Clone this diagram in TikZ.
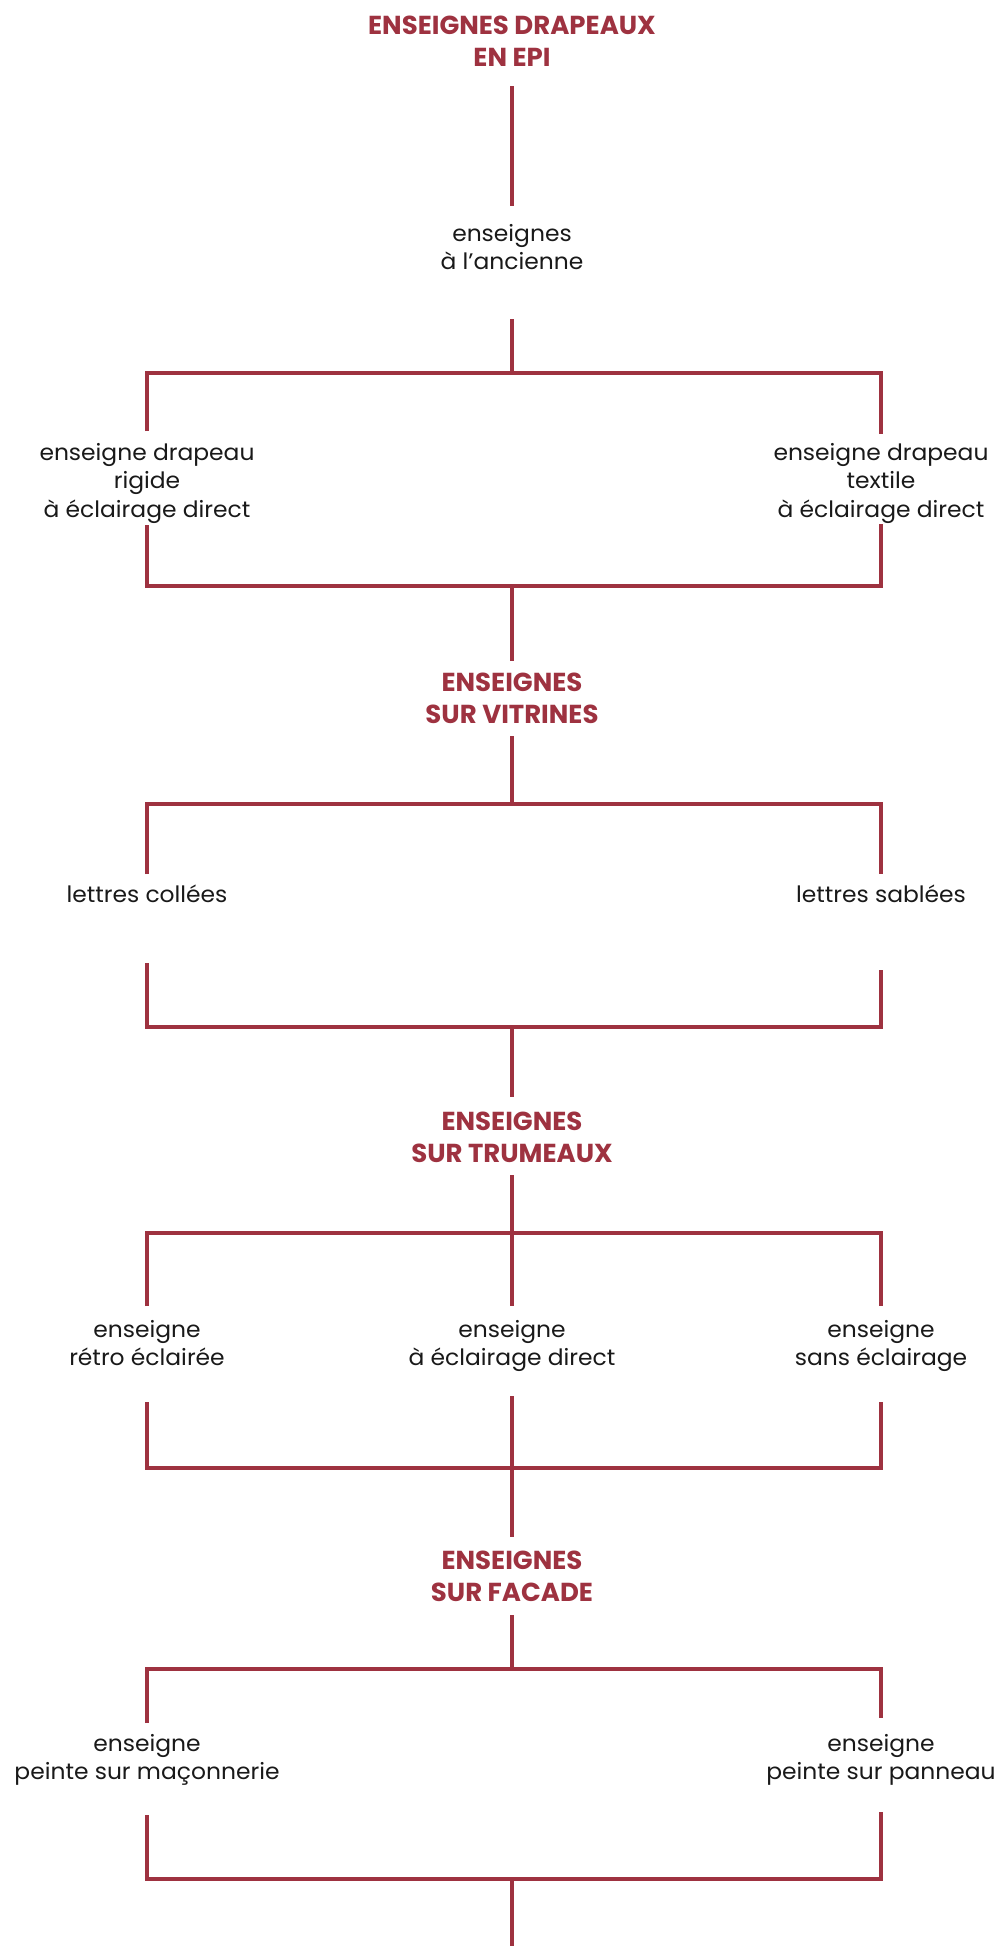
\documentclass[tikz,border=0pt]{standalone}
\usepackage{fontspec}
\setmainfont{Poppins}
\newfontfamily\leaffamily[FakeStretch=1.04]{Poppins}
\definecolor{wine}{RGB}{158,50,64}
\definecolor{ink}{RGB}{25,25,25}
\newcommand\headfont{\fontsize{26}{32}\selectfont\bfseries}
\newcommand\leaffont{\leaffamily\fontsize{22.5}{28}\selectfont}
\tikzset{
  link/.style={draw=wine, line width=3.1pt},
  head/.style={font=\headfont, text=wine, anchor=base, inner sep=0pt},
  leaf/.style={font=\leaffont, text=ink, anchor=base, inner sep=0pt},
}
\begin{document}
\begin{tikzpicture}[x=1pt,y=-1pt]
\fill[white] (0,0) rectangle (1002,1946);
\useasboundingbox (0,0) rectangle (1002,1946);
\def\cx{512}\def\lx{147}\def\rx{881}
% --- headings
\node[head] (h1a) at (\cx,34) {ENSEIGNES DRAPEAUX};
\node[head] (h1b) at (\cx,66) {EN EPI};
\node[head] (h2a) at (\cx,691) {ENSEIGNES};
\node[head] (h2b) at (\cx,723) {SUR VITRINES};
\node[head] (h3a) at (\cx,1130) {ENSEIGNES};
\node[head] (h3b) at (\cx,1162) {SUR TRUMEAUX};
\node[head] (h4a) at (\cx,1569) {ENSEIGNES};
\node[head] (h4b) at (\cx,1601) {SUR FACADE};
% --- leaves
\node[leaf] (a1) at (\cx,241) {enseignes};
\node[leaf] (a2) at (\cx,269) {à l’ancienne};
\node[leaf] (b1) at (\lx,460) {enseigne drapeau};
\node[leaf] (b2) at (\lx,488.5) {rigide};
\node[leaf] (b3) at (\lx,517) {à éclairage direct};
\node[leaf] (c1) at (\rx,460) {enseigne drapeau};
\node[leaf] (c2) at (\rx,488.5) {textile};
\node[leaf] (c3) at (\rx,517) {à éclairage direct};
\node[leaf] (d1) at (\lx,902) {lettres collées};
\node[leaf] (e1) at (\rx,902) {lettres sablées};
\node[leaf] (f1) at (\lx,1337) {enseigne};
\node[leaf] (f2) at (\lx,1365) {rétro éclairée};
\node[leaf] (g1) at (\cx,1337) {enseigne};
\node[leaf] (g2) at (\cx,1365) {à éclairage direct};
\node[leaf] (k1) at (\rx,1337) {enseigne};
\node[leaf] (k2) at (\rx,1365) {sans éclairage};
\node[leaf] (m1) at (\lx,1751) {enseigne};
\node[leaf] (m2) at (\lx,1779) {peinte sur maçonnerie};
\node[leaf] (n1) at (\rx,1751) {enseigne};
\node[leaf] (n2) at (\rx,1779) {peinte sur panneau};
% --- line ends
\coordinate (s1t) at (\cx,86);   \coordinate (s1b) at (\cx,206);
\coordinate (s2t) at (\cx,319);  \coordinate (j1) at (\cx,373);
\coordinate (bt) at (\lx,431);   \coordinate (ct) at (\rx,434);
\coordinate (bb) at (\lx,525);   \coordinate (cb) at (\rx,524);
\coordinate (j2) at (\cx,586);   \coordinate (s3b) at (\cx,661);
\coordinate (s4t) at (\cx,736);  \coordinate (j3) at (\cx,804);
\coordinate (dt) at (\lx,874);   \coordinate (et) at (\rx,874);
\coordinate (db) at (\lx,963);   \coordinate (eb) at (\rx,970);
\coordinate (j4) at (\cx,1027);  \coordinate (s5b) at (\cx,1097);
\coordinate (s6t) at (\cx,1175); \coordinate (j5) at (\cx,1233);
\coordinate (ft) at (\lx,1306);  \coordinate (gt) at (\cx,1306); \coordinate (kt) at (\rx,1306);
\coordinate (fb) at (\lx,1402);  \coordinate (gb) at (\cx,1396); \coordinate (kb) at (\rx,1402);
\coordinate (j6) at (\cx,1468);  \coordinate (s7b) at (\cx,1537);
\coordinate (s8t) at (\cx,1615); \coordinate (j7) at (\cx,1669);
\coordinate (mt) at (\lx,1723);  \coordinate (nt) at (\rx,1718);
\coordinate (mb) at (\lx,1815);  \coordinate (nb) at (\rx,1812);
\coordinate (j8) at (\cx,1879);  \coordinate (s9b) at (\cx,1946);
% --- connectors
\draw[link] (s1t) -- (s1b);
\draw[link] (s2t) -- (j1);
\draw[link] (bt) -- (bt |- j1) -- (ct |- j1) -- (ct);
\draw[link] (bb) -- (bb |- j2) -- (cb |- j2) -- (cb);
\draw[link] (j2) -- (s3b);
\draw[link] (s4t) -- (j3);
\draw[link] (dt) -- (dt |- j3) -- (et |- j3) -- (et);
\draw[link] (db) -- (db |- j4) -- (eb |- j4) -- (eb);
\draw[link] (j4) -- (s5b);
\draw[link] (s6t) -- (j5);
\draw[link] (ft) -- (ft |- j5) -- (kt |- j5) -- (kt);
\draw[link] (j5) -- (gt);
\draw[link] (fb) -- (fb |- j6) -- (kb |- j6) -- (kb);
\draw[link] (gb) -- (s7b);
\draw[link] (s8t) -- (j7);
\draw[link] (mt) -- (mt |- j7) -- (nt |- j7) -- (nt);
\draw[link] (mb) -- (mb |- j8) -- (nb |- j8) -- (nb);
\draw[link] (j8) -- (s9b);
\end{tikzpicture}
\end{document}
